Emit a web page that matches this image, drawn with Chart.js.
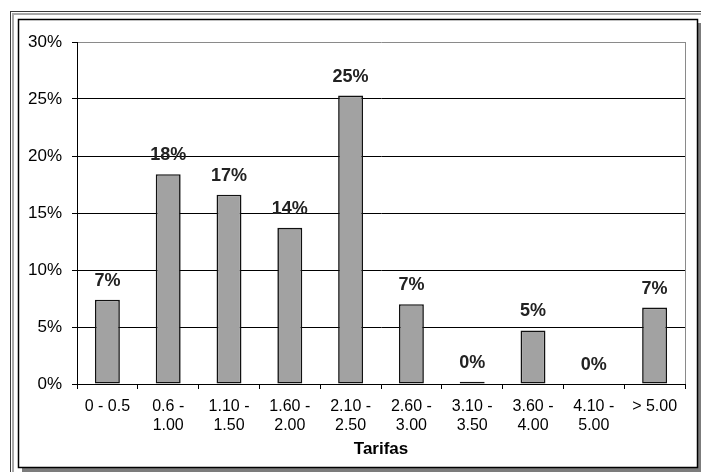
<!DOCTYPE html>
<html>
<head>
<meta charset="utf-8">
<script src="https://cdn.jsdelivr.net/npm/chart.js@4/dist/chart.umd.min.js"></script>
<style>
  html, body { margin: 0; padding: 0; background: #fff; }
  canvas { display: block; }
</style>
</head>
<body>
<canvas id="c" width="701" height="472" style="width:701px;height:472px"></canvas>
<script>
// Fare bands and share of observations in each band (percent)
const categories = [
  ['0 - 0.5'], ['0.6 -', '1.00'], ['1.10 -', '1.50'], ['1.60 -', '2.00'],
  ['2.10 -', '2.50'], ['2.60 -', '3.00'], ['3.10 -', '3.50'], ['3.60 -', '4.00'],
  ['4.10 -', '5.00'], ['> 5.00']
];
const shares = [7.4, 18.4, 16.6, 13.7, 25.3, 7.0, 0.2, 4.7, 0, 6.7];
const yTicks = [0, 5, 10, 15, 20, 25, 30];
const axisTitle = 'Tarifas';

const FONT = 'Arial, "Liberation Sans", sans-serif';

// Sheet-style frame: outer double rule, boxed panel with drop shadow
const framePlugin = {
  id: 'frame',
  beforeDraw(chart) {
    const ctx = chart.ctx;
    const W = chart.width, H = chart.height;
    ctx.save();
    ctx.fillStyle = '#fff';
    ctx.fillRect(0, 0, W, H);
    // outer double rule (top and left)
    ctx.fillStyle = '#3a3a3a';
    ctx.fillRect(10, 11, W - 10, 1);
    ctx.fillRect(10, 11, 1, H - 11);
    ctx.fillStyle = '#a8a8a8';
    ctx.fillRect(12, 13, W - 12, 2);
    ctx.fillRect(12, 13, 2, H - 13);
    // panel shadow
    ctx.fillStyle = '#7c7c7c';
    ctx.fillRect(22, 23, W - 22, H - 23);
    // panel
    ctx.fillStyle = '#fff';
    ctx.fillRect(18, 19, 680, 449);
    ctx.strokeStyle = '#000';
    ctx.lineWidth = 1.5;
    ctx.strokeRect(18.5, 19.5, 679, 448);
    ctx.restore();
  },
  afterDraw(chart) {
    // grey right edge of the plot area
    const a = chart.chartArea;
    const ctx = chart.ctx;
    ctx.save();
    ctx.strokeStyle = '#8a8a8a';
    ctx.lineWidth = 1;
    ctx.beginPath();
    ctx.moveTo(Math.round(a.right) + 0.5, a.top);
    ctx.lineTo(Math.round(a.right) + 0.5, a.bottom);
    ctx.stroke();
    ctx.restore();
  }
};

// Percentage label above each bar
const valueLabels = {
  id: 'valueLabels',
  afterDatasetsDraw(chart) {
    const ctx = chart.ctx;
    const meta = chart.getDatasetMeta(0);
    ctx.save();
    ctx.font = 'bold 18px ' + FONT;
    ctx.fillStyle = '#222';
    ctx.textAlign = 'center';
    ctx.textBaseline = 'middle';
    meta.data.forEach((bar, i) => {
      const v = chart.data.datasets[0].data[i];
      ctx.fillText(Math.round(v) + '%', bar.x, bar.y - 19);
    });
    ctx.restore();
  }
};

new Chart(document.getElementById('c'), {
  type: 'bar',
  data: {
    labels: categories,
    datasets: [{
      data: shares,
      backgroundColor: '#a2a2a2',
      borderColor: '#111',
      borderWidth: 1.6,
      borderSkipped: false,
      barPercentage: 0.82,
      categoryPercentage: 0.5
    }]
  },
  options: {
    responsive: false,
    animation: false,
    events: [],
    layout: { padding: { left: 0, right: 16, top: 42, bottom: 0 } },
    plugins: { legend: { display: false }, tooltip: { enabled: false } },
    scales: {
      x: {
        offset: true,
        afterFit(s) { s.height = 88; },
        grid: {
          offset: true,
          drawOnChartArea: false,
          drawTicks: true,
          tickLength: 5,
          color: '#000',
          tickColor: '#000'
        },
        border: { color: '#000', width: 1 },
        ticks: {
          color: '#000',
          padding: 8,
          maxRotation: 0,
          autoSkip: false,
          font: { family: FONT, size: 16, lineHeight: 1.2 }
        },
        title: {
          display: true,
          text: axisTitle,
          color: '#000',
          padding: { top: 0, bottom: 12 },
          font: { family: FONT, size: 17, weight: 'bold' }
        }
      },
      y: {
        min: yTicks[0],
        max: yTicks[yTicks.length - 1],
        afterFit(s) { s.width = 77; },
        afterBuildTicks(s) { s.ticks = yTicks.map(v => ({ value: v })); },
        grid: {
          drawTicks: true,
          tickLength: 5,
          color: ctx => (ctx.tick && ctx.tick.value === 30) ? '#8a8a8a' : '#000',
          tickColor: '#000'
        },
        border: { color: '#000', width: 1 },
        ticks: {
          color: '#000',
          padding: 10,
          callback: v => v + '%',
          font: { family: FONT, size: 17 }
        }
      }
    }
  },
  plugins: [framePlugin, valueLabels]
});
</script>
</body>
</html>
